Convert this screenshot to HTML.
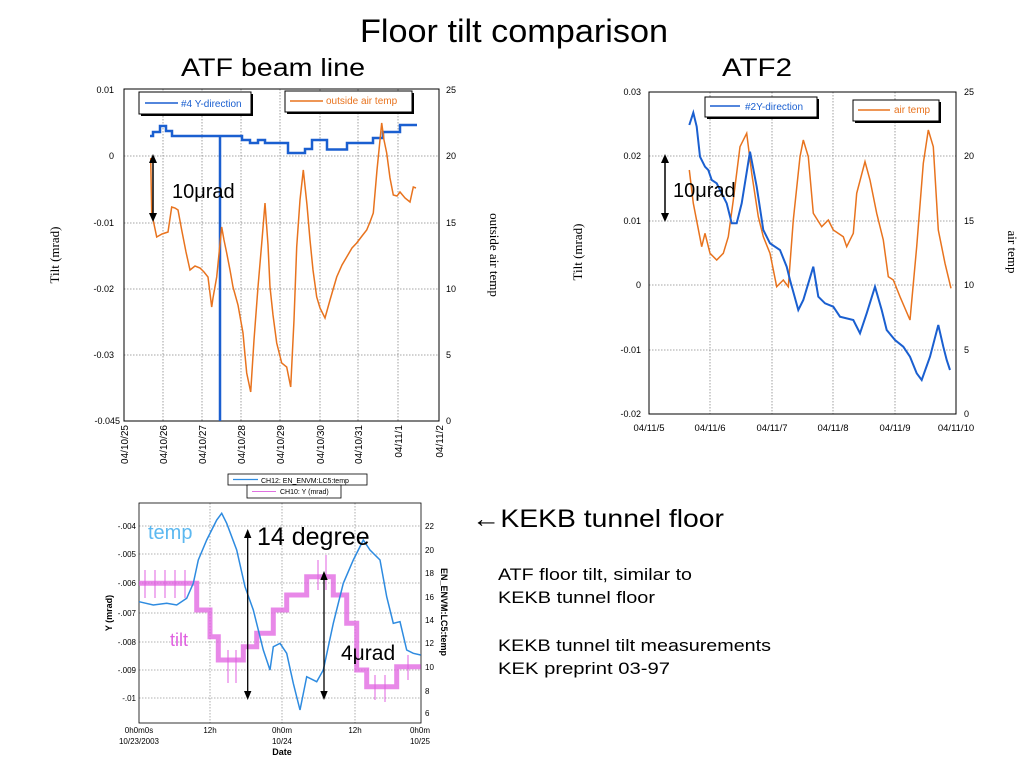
<!DOCTYPE html>
<html><head><meta charset="utf-8"><style>
body{margin:0;background:#fff;}
svg{display:block;font-family:"Liberation Sans",sans-serif;}
.s{font-family:"Liberation Serif",serif;}
</style></head><body>
<svg width="1024" height="768" viewBox="0 0 1024 768" xmlns="http://www.w3.org/2000/svg">
<rect width="1024" height="768" fill="#fff"/>
<text x="360" y="42" font-size="32" textLength="308" lengthAdjust="spacingAndGlyphs">Floor tilt comparison</text>
<text x="181" y="76" font-size="25" textLength="184" lengthAdjust="spacingAndGlyphs">ATF beam line</text>
<text x="722" y="76" font-size="25" textLength="70" lengthAdjust="spacingAndGlyphs">ATF2</text>

<!-- Chart 1 -->
<g stroke="#888" stroke-width="0.8" stroke-dasharray="1.5,1.5">
<line x1="124" y1="156" x2="439" y2="156"/><line x1="124" y1="223" x2="439" y2="223"/><line x1="124" y1="289" x2="439" y2="289"/><line x1="124" y1="355" x2="439" y2="355"/>
<line x1="163" y1="89" x2="163" y2="421"/><line x1="202" y1="89" x2="202" y2="421"/><line x1="241" y1="89" x2="241" y2="421"/><line x1="280" y1="89" x2="280" y2="421"/><line x1="320" y1="89" x2="320" y2="421"/><line x1="358" y1="89" x2="358" y2="421"/><line x1="398" y1="89" x2="398" y2="421"/>
</g>
<rect x="124" y="89" width="315" height="332" fill="none" stroke="#000" stroke-width="1"/>
<g font-size="9" text-anchor="end"><text x="114" y="93">0.01</text><text x="114" y="159">0</text><text x="114" y="226">-0.01</text><text x="114" y="292">-0.02</text><text x="114" y="358">-0.03</text><text x="120" y="424">-0.045</text></g>
<g font-size="9"><text x="446" y="93">25</text><text x="446" y="159">20</text><text x="446" y="226">15</text><text x="446" y="292">10</text><text x="446" y="358">5</text><text x="446" y="424">0</text></g>
<g font-size="10" text-anchor="end">
<text transform="translate(128,425) rotate(-90)">04/10/25</text><text transform="translate(167,425) rotate(-90)">04/10/26</text><text transform="translate(206,425) rotate(-90)">04/10/27</text><text transform="translate(245,425) rotate(-90)">04/10/28</text><text transform="translate(284,425) rotate(-90)">04/10/29</text><text transform="translate(324,425) rotate(-90)">04/10/30</text><text transform="translate(362,425) rotate(-90)">04/10/31</text><text transform="translate(402,425) rotate(-90)">04/11/1</text><text transform="translate(443,425) rotate(-90)">04/11/2</text>
</g>
<text class="s" font-size="13" text-anchor="middle" transform="translate(59,255) rotate(-90)">Tilt (mrad)</text>
<text class="s" font-size="13" text-anchor="middle" transform="translate(490,255) rotate(90)">outside air temp</text>
<rect x="141" y="94" width="112" height="22" fill="#000"/><rect x="139" y="92" width="112" height="22" fill="#fff" stroke="#000"/>
<line x1="145" y1="103" x2="178" y2="103" stroke="#1a5fd0" stroke-width="1.5"/><text x="181" y="107" font-size="10" fill="#1a5fd0">#4 Y-direction</text>
<rect x="287" y="93" width="127" height="21" fill="#000"/><rect x="285" y="91" width="127" height="21" fill="#fff" stroke="#000"/>
<line x1="290" y1="101" x2="323" y2="101" stroke="#e8731e" stroke-width="1.5"/><text x="326" y="104" font-size="10" fill="#e8731e">outside air temp</text>
<polyline fill="none" stroke="#1a5fd0" stroke-width="2.5" points="150,136 153,136 153,132 160,132 160,126 166,126 166,131 172,131 172,136 242,136 242,140 250,140 250,143 258,143 258,140 265,140 265,143 288,143 288,153 305,153 305,149 312,149 312,140 327,140 327,149.5 347,149.5 347,143 373,143 373,138 383,138 383,132 400,132 400,125 417,125"/>
<line x1="220" y1="136" x2="220" y2="421" stroke="#1a5fd0" stroke-width="2.5"/>
<polyline fill="none" stroke="#e8731e" stroke-width="1.5" points="150.7,158 151.7,213 156.7,237 162,234 168,232 171.7,207 175,208 178,210 181.7,230 186,252 190,270 195,266 200,268 204,272 208,277 211.7,307 213,298 216.7,277 221.7,227 224,240 226.7,253 230,270 233,287 238,305 243,333 245,355 246.7,373 250.7,392 254,340 258,287 262,240 265,203 268,245 270,287 273,315 276.7,343 281.7,363 286.7,367 290.7,387 294,320 296.7,247 300,200 303.3,170 307,205 310,240 313,270 316.7,297 320,308 325,318 330,300 336.7,277 342,265 346.7,257 352,248 356.7,243 362,236 366.7,230 370,222 373.3,213 377,170 381.7,123 384,140 386.7,153 390,178 393.3,195 397,196 400,192 405,198 410,202 413.3,187 416,188"/>
<line x1="153" y1="162" x2="153" y2="214" stroke="#000" stroke-width="1.5"/>
<polygon points="153,154 149,163 157,163" fill="#000"/><polygon points="153,222 149,213 157,213" fill="#000"/>
<text x="172" y="198" font-size="20">10μrad</text>

<!-- Chart 2 -->
<g stroke="#888" stroke-width="0.8" stroke-dasharray="1.5,1.5">
<line x1="649" y1="156" x2="956" y2="156"/><line x1="649" y1="221" x2="956" y2="221"/><line x1="649" y1="285" x2="956" y2="285"/><line x1="649" y1="350" x2="956" y2="350"/>
<line x1="710" y1="92" x2="710" y2="414"/><line x1="772" y1="92" x2="772" y2="414"/><line x1="833" y1="92" x2="833" y2="414"/><line x1="895" y1="92" x2="895" y2="414"/>
</g>
<rect x="649" y="92" width="307" height="322" fill="none" stroke="#000" stroke-width="1"/>
<g font-size="9" text-anchor="end"><text x="641" y="95">0.03</text><text x="641" y="159">0.02</text><text x="641" y="224">0.01</text><text x="641" y="288">0</text><text x="641" y="353">-0.01</text><text x="641" y="417">-0.02</text></g>
<g font-size="9"><text x="964" y="95">25</text><text x="964" y="159">20</text><text x="964" y="224">15</text><text x="964" y="288">10</text><text x="964" y="353">5</text><text x="964" y="417">0</text></g>
<g font-size="9.5" text-anchor="middle"><text x="649" y="431">04/11/5</text><text x="710" y="431">04/11/6</text><text x="772" y="431">04/11/7</text><text x="833" y="431">04/11/8</text><text x="895" y="431">04/11/9</text><text x="956" y="431">04/11/10</text></g>
<text class="s" font-size="13" text-anchor="middle" transform="translate(582,252) rotate(-90)">Tilt (mrad)</text>
<text class="s" font-size="13" text-anchor="middle" transform="translate(1008,252) rotate(90)">air temp</text>
<rect x="707" y="99" width="112" height="20" fill="#000"/><rect x="705" y="97" width="112" height="20" fill="#fff" stroke="#000"/>
<line x1="710" y1="106" x2="740" y2="106" stroke="#1a5fd0" stroke-width="1.5"/><text x="745" y="110" font-size="10" fill="#1a5fd0">#2Y-direction</text>
<rect x="855" y="102" width="86" height="21" fill="#000"/><rect x="853" y="100" width="86" height="21" fill="#fff" stroke="#000"/>
<line x1="858" y1="110" x2="890" y2="110" stroke="#e8731e" stroke-width="1.5"/><text x="894" y="113" font-size="10" fill="#e8731e">air temp</text>
<polyline fill="none" stroke="#e8731e" stroke-width="1.5" points="689.3,170 693.3,203.3 701.7,246.7 705,233.3 710,253.3 716.7,260 723.3,253.3 728.3,236.7 733.3,200 740,146.7 746.7,133.3 751.7,173.3 758.3,216.7 763.3,236.7 770,253.3 776.7,286.7 783.3,280 788.3,286.7 793.3,220 800,156.7 803.3,140 808.3,156.7 813.3,213.3 821.7,226.7 828.3,220 833.3,230 843.3,236.7 846.7,246.7 853.3,233.3 856.7,193.3 865,161.7 870,180 876.7,213.3 883.3,240 888.3,276.7 893.3,280 900,296.7 910,320 916.7,246.7 923.3,163.3 928.3,130 933.3,146.7 938.3,230 945,263.3 951,288.3"/>
<polyline fill="none" stroke="#1a5fd0" stroke-width="2" points="689.3,125 693.3,112.7 696.7,126.7 700,156.7 705,166.7 708.3,170 711.7,180 716.7,183.3 726.7,203.3 731.7,223.3 736.7,223.3 741.7,203.3 750,151.7 756.7,186.7 763.3,230 770,243.3 780,250 786.7,266.7 790,280 798.3,310 803.3,300 813.3,266.7 818.3,296.7 825,303.3 833.3,306.7 840,316.7 853.3,320 860,333.3 866.7,313.3 875,286.7 881.7,310 886.7,330 895,340 903.3,346.7 910,356.7 916.7,373.3 921.7,380 930,356.7 938.3,325 943.3,346.7 946.7,360 950,370"/>
<line x1="665" y1="162" x2="665" y2="214" stroke="#000" stroke-width="1.5"/>
<polygon points="665,154 661,163 669,163" fill="#000"/><polygon points="665,222 661,213 669,213" fill="#000"/>
<text x="673" y="197" font-size="20">10μrad</text>

<!-- Chart 3 -->
<g stroke="#999" stroke-width="0.8" stroke-dasharray="1.5,1.5">
<line x1="139" y1="526" x2="421" y2="526"/><line x1="139" y1="554" x2="421" y2="554"/><line x1="139" y1="583" x2="421" y2="583"/><line x1="139" y1="613" x2="421" y2="613"/><line x1="139" y1="642" x2="421" y2="642"/><line x1="139" y1="670" x2="421" y2="670"/><line x1="139" y1="698" x2="421" y2="698"/>
<line x1="210" y1="503" x2="210" y2="723"/><line x1="282" y1="503" x2="282" y2="723"/><line x1="355" y1="503" x2="355" y2="723"/>
</g>
<rect x="139" y="503" width="282" height="220" fill="none" stroke="#000" stroke-width="0.8"/>
<g font-size="8" text-anchor="end"><text x="136" y="529">-.004</text><text x="136" y="557">-.005</text><text x="136" y="586">-.006</text><text x="136" y="616">-.007</text><text x="136" y="645">-.008</text><text x="136" y="673">-.009</text><text x="136" y="701">-.01</text></g>
<g font-size="8"><text x="425" y="529">22</text><text x="425" y="553">20</text><text x="425" y="576">18</text><text x="425" y="600">16</text><text x="425" y="623">14</text><text x="425" y="646">12</text><text x="425" y="670">10</text><text x="425" y="694">8</text><text x="425" y="716">6</text></g>
<g font-size="8" text-anchor="middle"><text x="139" y="733">0h0m0s</text><text x="139" y="744">10/23/2003</text><text x="210" y="733">12h</text><text x="282" y="733">0h0m</text><text x="282" y="744">10/24</text><text x="355" y="733">12h</text><text x="420" y="733">0h0m</text><text x="420" y="744">10/25</text><text x="282" y="755" font-weight="bold" font-size="9">Date</text></g>
<text font-size="9" font-weight="bold" text-anchor="middle" transform="translate(112,613) rotate(-90)">Y (mrad)</text>
<text font-size="9" font-weight="bold" text-anchor="middle" transform="translate(441,612) rotate(90)">EN_ENVM:LC5:temp</text>
<rect x="228" y="474" width="139" height="11" fill="#fff" stroke="#000" stroke-width="0.8"/>
<line x1="233" y1="479.5" x2="258" y2="479.5" stroke="#2e8be0" stroke-width="1.2"/><text x="261" y="483" font-size="7">CH12: EN_ENVM:LC5:temp</text>
<rect x="247" y="485" width="94" height="13" fill="#fff" stroke="#000" stroke-width="0.8"/>
<line x1="252" y1="491.5" x2="276" y2="491.5" stroke="#e070e0" stroke-width="1"/><text x="280" y="494" font-size="7">CH10: Y (mrad)</text>
<g fill="none" stroke="#e060e0" stroke-width="5" stroke-opacity="0.75">
<polyline points="139,583.3 196.7,583.3 196.7,610 210,610 210,636.7 218.3,636.7 218.3,660 243.3,660 243.3,646.7 256.7,646.7 256.7,633.3 273.3,633.3 273.3,610 286.7,610 286.7,595 306.7,595 306.7,576.7 333.3,576.7 333.3,595 346.7,595 346.7,623.3 356.7,623.3 356.7,670 366.7,670 366.7,686.7 396.7,686.7 396.7,666.7 420.7,666.7"/>
</g>
<g stroke="#e060e0" stroke-width="1">
<line x1="145" y1="570" x2="145" y2="598"/><line x1="155" y1="570" x2="155" y2="598"/><line x1="165" y1="570" x2="165" y2="598"/><line x1="175" y1="570" x2="175" y2="598"/><line x1="185" y1="570" x2="185" y2="598"/><line x1="228" y1="650" x2="228" y2="683"/><line x1="236" y1="650" x2="236" y2="683"/><line x1="318" y1="560" x2="318" y2="590"/><line x1="326" y1="555" x2="326" y2="590"/><line x1="375" y1="675" x2="375" y2="700"/><line x1="385" y1="675" x2="385" y2="702"/><line x1="408" y1="655" x2="408" y2="680"/></g>
<polyline fill="none" stroke="#2e8be0" stroke-width="1.5" points="139,601.7 153.3,605 166.7,603.3 176.7,605 186.7,598.3 193.3,583.3 198.3,560 206.7,540 216.7,520 221.7,513.3 226.7,523.3 236.7,550 245,586.7 253.3,610 263.3,650 270,670 273.3,646.7 280,643.3 286.7,653.3 293.3,683.3 300,710 306.7,676.7 316.7,681.7 323.3,670 333.3,623.3 343.3,583.3 353.3,560 363.3,540 370,550 380,560 386.7,596.7 393.3,623.3 400,621.7 406.7,650 413.3,653.3 420.7,655"/>
<text x="148" y="539" font-size="20" fill="#5cb8f0">temp</text>
<text x="170" y="646" font-size="18" fill="#e060e0">tilt</text>
<line x1="247.7" y1="537" x2="247.7" y2="692" stroke="#000" stroke-width="1.3"/>
<polygon points="247.7,529 244,538 251.4,538" fill="#000"/><polygon points="247.7,700 244,691 251.4,691" fill="#000"/>
<line x1="324" y1="579" x2="324" y2="692" stroke="#000" stroke-width="1.3"/>
<polygon points="324,571 320.3,580 327.7,580" fill="#000"/><polygon points="324,700 320.3,691 327.7,691" fill="#000"/>
<text x="257" y="545" font-size="25">14 degree</text>
<text x="341" y="660" font-size="21">4μrad</text>

<!-- Right text -->
<text x="472" y="527" font-size="25" textLength="252" lengthAdjust="spacingAndGlyphs">←KEKB tunnel floor</text>
<g font-size="17"><text x="498" y="580" textLength="194" lengthAdjust="spacingAndGlyphs">ATF floor tilt, similar to</text><text x="498" y="603" textLength="157" lengthAdjust="spacingAndGlyphs">KEKB tunnel floor</text><text x="498" y="651" textLength="273" lengthAdjust="spacingAndGlyphs">KEKB tunnel tilt measurements</text><text x="498" y="674" textLength="172" lengthAdjust="spacingAndGlyphs">KEK preprint  03-97</text></g>
</svg>
</body></html>
